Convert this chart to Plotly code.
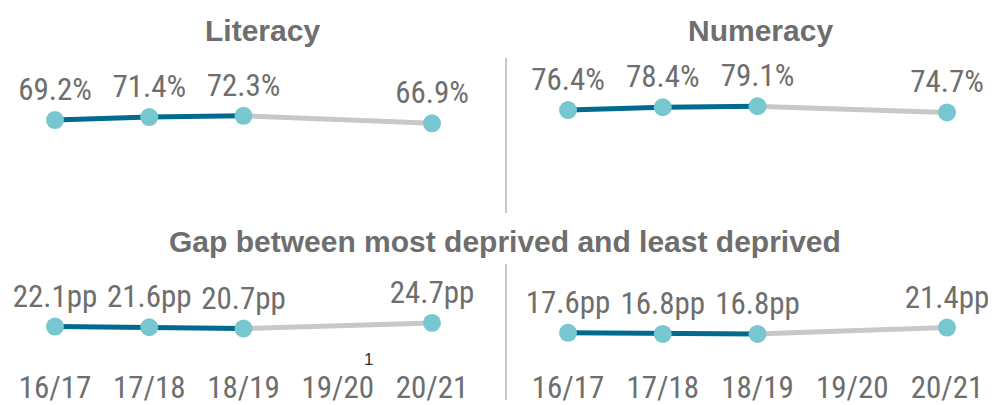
import plotly.graph_objects as go

W, H = 996, 405
OFF = 8  # page body margin offset

years = ["16/17", "17/18", "18/19", "19/20", "20/21"]
# values (None = no data for 19/20)
literacy = [69.2, 71.4, 72.3, None, 66.9]
numeracy = [76.4, 78.4, 79.1, None, 74.7]
gap_literacy = [22.1, 21.6, 20.7, None, 24.7]
gap_numeracy = [17.6, 16.8, 16.8, None, 21.4]

panel_titles = ["Literacy", "Numeracy", "Gap between most deprived and least deprived"]
footnote_mark = "1"

DARK = "#006b8f"
GREY = "#c8c8c8"
MARK = "#76c7cf"
TXT = "#6e6e6e"
FONT = "Liberation Sans Narrow, Arial Narrow, Roboto Condensed, Roboto, sans-serif"
BOLD = "Liberation Sans, Arial, sans-serif"

def px_x(p):
    return (p - OFF) / W

def px_y(p):
    return 1 - (p - OFF) / H

def x_axis_geom(first_px, last_px):
    """domain + range so that index 0 sits at first_px and index 4 at last_px"""
    unit = (last_px - first_px) / 4
    d0 = max(0.0, px_x(first_px - unit / 2))
    d1 = min(1.0, px_x(last_px + unit / 2))
    r0 = ((d0 * W + OFF) - first_px) / unit
    r1 = ((d1 * W + OFF) - first_px) / unit
    return [d0, d1], [r0, r1]

fig = go.Figure()

panels = [
    (literacy, "%", "x", "y"),
    (numeracy, "%", "x2", "y2"),
    (gap_literacy, "pp", "x3", "y3"),
    (gap_numeracy, "pp", "x4", "y4"),
]

for vals, suffix, xa, ya in panels:
    xs = [y for y, v in zip(years, vals) if v is not None]
    vs = [v for v in vals if v is not None]
    fig.add_trace(go.Scatter(x=xs[2:], y=vs[2:], mode="lines",
                             line=dict(color=GREY, width=5), xaxis=xa, yaxis=ya,
                             hoverinfo="skip", showlegend=False, cliponaxis=False))
    fig.add_trace(go.Scatter(x=xs[:3], y=vs[:3], mode="lines",
                             line=dict(color=DARK, width=5), xaxis=xa, yaxis=ya,
                             hoverinfo="skip", showlegend=False, cliponaxis=False))
    fig.add_trace(go.Scatter(x=xs, y=vs, mode="markers+text",
                             marker=dict(color=MARK, size=18),
                             text=[f"{v:.1f}{suffix}" for v in vs],
                             textposition="top center",
                             textfont=dict(family=FONT, size=31, color=TXT),
                             xaxis=xa, yaxis=ya, showlegend=False, cliponaxis=False))

left_dom, left_rng = x_axis_geom(55, 432)
right_dom, right_rng = x_axis_geom(568, 947)
top_dom = [px_y(217), px_y(217 - 140)]
bot_dom = [px_y(357.5), px_y(357.5 - 140)]

xcommon = dict(type="category", categoryorder="array", categoryarray=years,
               showgrid=False, zeroline=False, showline=False,
               ticks="", fixedrange=True)
ycommon = dict(range=[0, 100], showgrid=False, zeroline=False, showline=False,
               showticklabels=False, fixedrange=True)
tickf = dict(family=FONT, size=31, color=TXT)

fig.update_layout(
    width=W, height=H,
    margin=dict(l=0, r=0, t=0, b=0),
    paper_bgcolor="white", plot_bgcolor="white",
    showlegend=False,
    xaxis=dict(**xcommon, range=left_rng, domain=left_dom, anchor="y", showticklabels=False),
    xaxis2=dict(**xcommon, range=right_rng, domain=right_dom, anchor="y2", showticklabels=False),
    xaxis3=dict(**xcommon, range=left_rng, domain=left_dom, anchor="y3", showticklabels=True,
                tickfont=tickf, ticklabelstandoff=8),
    xaxis4=dict(**xcommon, range=right_rng, domain=right_dom, anchor="y4", showticklabels=True,
                tickfont=tickf, ticklabelstandoff=8),
    yaxis=dict(**ycommon, domain=top_dom, anchor="x"),
    yaxis2=dict(**ycommon, domain=top_dom, anchor="x2"),
    yaxis3=dict(**ycommon, domain=bot_dom, anchor="x3"),
    yaxis4=dict(**ycommon, domain=bot_dom, anchor="x4"),
)

title_font = dict(family=BOLD, size=30, color=TXT)
fig.add_annotation(text=f"<b>{panel_titles[0]}</b>", x=px_x(262), y=px_y(30), xref="paper", yref="paper",
                   showarrow=False, font=title_font, xanchor="center", yanchor="middle")
fig.add_annotation(text=f"<b>{panel_titles[1]}</b>", x=px_x(760), y=px_y(30), xref="paper", yref="paper",
                   showarrow=False, font=title_font, xanchor="center", yanchor="middle")
fig.add_annotation(text=f"<b>{panel_titles[2]}</b>", x=px_x(505), y=px_y(241), xref="paper", yref="paper",
                   showarrow=False, font=title_font, xanchor="center", yanchor="middle")
fig.add_annotation(text=footnote_mark, x="19/20", xref="x3", y=px_y(359), yref="paper",
                   xshift=31, showarrow=False, font=dict(family=BOLD, size=17, color="#333333"),
                   xanchor="center", yanchor="middle")

for y0, y1 in [(58, 213), (264, 400)]:
    fig.add_shape(type="line", xref="paper", yref="paper",
                  x0=px_x(506), x1=px_x(506), y0=px_y(y0), y1=px_y(y1),
                  line=dict(color=GREY, width=2))

fig.write_html("out.html")
